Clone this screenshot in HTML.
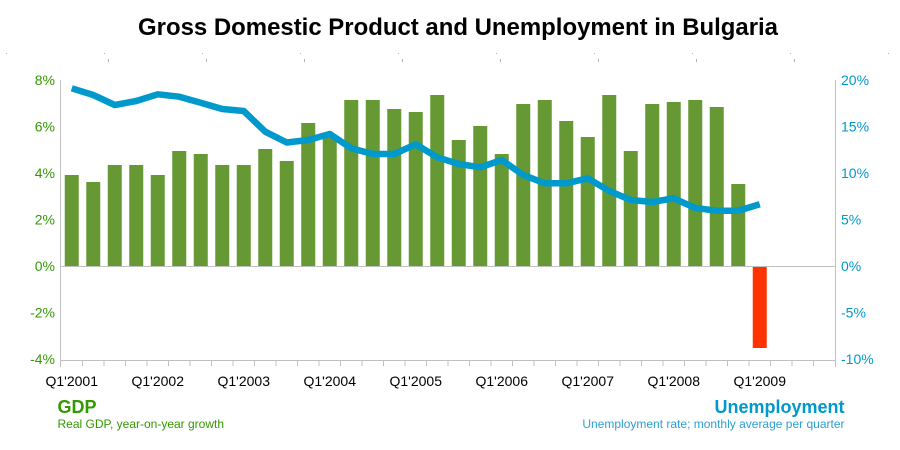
<!DOCTYPE html>
<html><head><meta charset="utf-8"><style>
html,body{margin:0;padding:0;background:#fff;}
svg{display:block;font-family:"Liberation Sans",Arial,sans-serif;}
</style></head><body>
<svg width="900" height="450" viewBox="0 0 900 450" xmlns="http://www.w3.org/2000/svg">
<rect width="900" height="450" fill="#fff"/>
<text x="458" y="35" text-anchor="middle" font-size="24" font-weight="bold" fill="#000" textLength="640" lengthAdjust="spacingAndGlyphs">Gross Domestic Product and Unemployment in Bulgaria</text>
<g fill="#b0b0b0">
<rect x="6" y="53" width="1" height="1"/><rect x="104" y="53" width="1" height="1"/><rect x="202" y="53" width="1" height="1"/><rect x="300" y="53" width="1" height="1"/><rect x="398" y="53" width="1" height="1"/><rect x="496" y="53" width="1" height="1"/><rect x="594" y="53" width="1" height="1"/><rect x="692" y="53" width="1" height="1"/><rect x="790" y="53" width="1" height="1"/><rect x="888" y="53" width="1" height="1"/>
<rect x="108" y="59" width="1" height="3"/><rect x="206" y="59" width="1" height="3"/><rect x="304" y="59" width="1" height="3"/><rect x="402" y="59" width="1" height="3"/><rect x="500" y="59" width="1" height="3"/><rect x="598" y="59" width="1" height="3"/><rect x="696" y="59" width="1" height="3"/><rect x="794" y="59" width="1" height="3"/>
</g>
<g fill="#669933">
<rect x="64.75" y="175" width="14" height="91"/>
<rect x="86.25" y="182" width="14" height="84"/>
<rect x="107.75" y="165" width="14" height="101"/>
<rect x="129.25" y="165" width="14" height="101"/>
<rect x="150.75" y="175" width="14" height="91"/>
<rect x="172.25" y="151" width="14" height="115"/>
<rect x="193.75" y="154" width="14" height="112"/>
<rect x="215.25" y="165" width="14" height="101"/>
<rect x="236.75" y="165" width="14" height="101"/>
<rect x="258.25" y="149" width="14" height="117"/>
<rect x="279.75" y="161" width="14" height="105"/>
<rect x="301.25" y="123" width="14" height="143"/>
<rect x="322.75" y="137" width="14" height="129"/>
<rect x="344.25" y="100" width="14" height="166"/>
<rect x="365.75" y="100" width="14" height="166"/>
<rect x="387.25" y="109" width="14" height="157"/>
<rect x="408.75" y="112" width="14" height="154"/>
<rect x="430.25" y="95" width="14" height="171"/>
<rect x="451.75" y="140" width="14" height="126"/>
<rect x="473.25" y="126" width="14" height="140"/>
<rect x="494.75" y="154" width="14" height="112"/>
<rect x="516.25" y="104" width="14" height="162"/>
<rect x="537.75" y="100" width="14" height="166"/>
<rect x="559.25" y="121" width="14" height="145"/>
<rect x="580.75" y="137" width="14" height="129"/>
<rect x="602.25" y="95" width="14" height="171"/>
<rect x="623.75" y="151" width="14" height="115"/>
<rect x="645.25" y="104" width="14" height="162"/>
<rect x="666.75" y="102" width="14" height="164"/>
<rect x="688.25" y="100" width="14" height="166"/>
<rect x="709.75" y="107" width="14" height="159"/>
<rect x="731.25" y="184" width="14" height="82"/>
</g>
<rect x="752.75" y="266" width="14" height="82" fill="#ff3300"/>
<g stroke="#c0c0c0" stroke-width="1" fill="none" shape-rendering="crispEdges">
<line x1="61" y1="266.5" x2="835" y2="266.5"/>
<line x1="61" y1="360.5" x2="835" y2="360.5"/>
<line x1="60.5" y1="80" x2="60.5" y2="367"/>
<line x1="835.5" y1="80" x2="835.5" y2="367"/>
<path d="M82.5 360v6M104 360v6M125.5 360v6M147 360v6M168.5 360v6M190 360v6M211.5 360v6M233 360v6M254.5 360v6M276 360v6M297.5 360v6M319 360v6M340.5 360v6M362 360v6M383.5 360v6M405 360v6M426.5 360v6M448 360v6M469.5 360v6M491 360v6M512.5 360v6M534 360v6M555.5 360v6M577 360v6M598.5 360v6M620 360v6M641.5 360v6M663 360v6M684.5 360v6M706 360v6M727.5 360v6M749 360v6M770.5 360v6M792 360v6M813.5 360v6"/>
</g>
<polyline fill="none" stroke="#0099cc" stroke-width="6.5" stroke-linejoin="round" points="71.75,88.3 93.25,95 114.75,105 136.25,101 157.75,94.3 179.25,96.7 200.75,102.7 222.25,109 243.75,111 265.25,131.7 286.75,142.5 308.25,140 329.75,134 351.25,148.3 372.75,154 394.25,154 415.75,144.3 437.25,157.3 458.75,164 480.25,167.3 501.75,160 523.25,175 544.75,183.3 566.25,183.3 587.75,178.3 609.25,191 630.75,200 652.25,202 673.75,198.3 695.25,208 716.75,210.7 738.25,210.7 759.75,204.3"/>
<g font-size="14" fill="#339900" text-anchor="end">
<text x="55" y="85">8%</text>
<text x="55" y="131.5">6%</text>
<text x="55" y="178">4%</text>
<text x="55" y="224.5">2%</text>
<text x="55" y="271">0%</text>
<text x="55" y="317.5">-2%</text>
<text x="55" y="364">-4%</text>
</g>
<g font-size="14" fill="#0099cc">
<text x="841" y="85">20%</text>
<text x="841" y="131.5">15%</text>
<text x="841" y="178">10%</text>
<text x="841" y="224.5">5%</text>
<text x="841" y="271">0%</text>
<text x="841" y="317.5">-5%</text>
<text x="841" y="364">-10%</text>
</g>
<g font-size="14" fill="#000" text-anchor="middle">
<text x="71.75" y="386">Q1'2001</text>
<text x="157.75" y="386">Q1'2002</text>
<text x="243.75" y="386">Q1'2003</text>
<text x="329.75" y="386">Q1'2004</text>
<text x="415.75" y="386">Q1'2005</text>
<text x="501.75" y="386">Q1'2006</text>
<text x="587.75" y="386">Q1'2007</text>
<text x="673.75" y="386">Q1'2008</text>
<text x="759.75" y="386">Q1'2009</text>
</g>
<text x="57.5" y="413" font-size="18" font-weight="bold" fill="#339900">GDP</text>
<text x="57.5" y="428" font-size="12" fill="#339900">Real GDP, year-on-year growth</text>
<text x="844.5" y="413" font-size="18" font-weight="bold" fill="#0099cc" text-anchor="end">Unemployment</text>
<text x="844.5" y="428" font-size="12" fill="#2b9fd6" text-anchor="end">Unemployment rate; monthly average per quarter</text>
</svg>
</body></html>
